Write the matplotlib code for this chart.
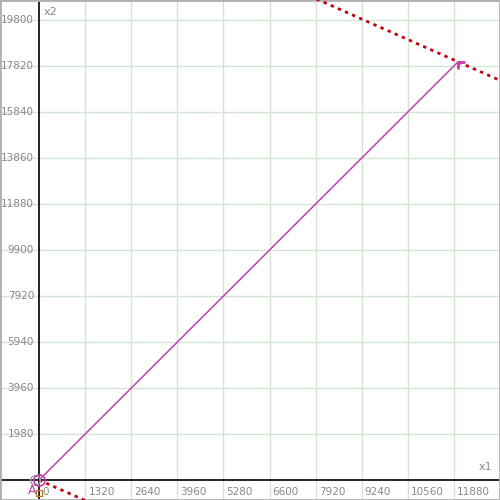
import matplotlib
matplotlib.use("Agg")
from matplotlib import pyplot as plt
from matplotlib.path import Path
import matplotlib.transforms as mtransforms

# axis ticks
x_ticks = [1320, 2640, 3960, 5280, 6600, 7920, 9240, 10560, 11880]
y_ticks = [1980, 3960, 5940, 7920, 9900, 11880, 13860, 15840, 17820, 19800]
x_tick_labels = ["0", "1320", "2640", "3960", "5280", "6600", "7920", "9240", "10560", "11880"]
y_tick_labels = ["1980", "3960", "5940", "7920", "9900", "11880", "13860", "15840", "17820", "19800"]

# direction vector from origin to the optimum point
origin = (0, 0)
optimum = (12000, 18000)
level_slope = -2 / 3  # objective level lines (perpendicular to gradient (2,3))

xlim = (-1120, 13200)
ylim = (-860, 20660)

gray = "#888888"
grid_col = "#d3e6d3"

fig = plt.figure(figsize=(5, 5), dpi=100)
ax = fig.add_axes([0, 0, 1, 1])
ax.set_xlim(*xlim)
ax.set_ylim(*ylim)

for x in x_ticks:
    ax.axvline(x, color=grid_col, lw=1, zorder=1)
for y in y_ticks:
    ax.axhline(y, color=grid_col, lw=1, zorder=1)

ax.axhline(0, color="black", lw=1.2, zorder=2)
ax.axvline(0, color="black", lw=1.2, zorder=2)

# tick labels
xt = mtransforms.blended_transform_factory(ax.transData, ax.transAxes)
for x, lab in zip([0] + x_ticks, x_tick_labels):
    ax.text(x + 90, 0.016, lab, transform=xt, ha="left", va="center",
            fontsize=7.5, color=gray, zorder=3)
yt = mtransforms.blended_transform_factory(ax.transAxes, ax.transData)
for y, lab in zip(y_ticks, y_tick_labels):
    ax.text(0.068, y, lab, transform=yt, ha="right", va="center",
            fontsize=7.5, color=gray, zorder=3)

ax.text(0.985, 0.066, "x1", transform=ax.transAxes, ha="right", va="center",
        fontsize=8, color=gray)
ax.text(0.088, 0.976, "x2", transform=ax.transAxes, ha="left", va="center",
        fontsize=8, color=gray)

# objective level lines
for px, py in [origin, optimum]:
    xs = [0, xlim[1]]
    ys = [py + level_slope * (v - px) for v in xs]
    ax.plot(xs, ys, color="#c00010", lw=2, ls=(0, (1.2, 1.6)), zorder=4)

# direction line
ax.plot([origin[0], optimum[0]], [origin[1], optimum[1]],
        color="#c040b0", lw=1.1, zorder=5)

corner = Path([(0, 0), (1, 0), (0, 0), (0, -1)],
              [Path.MOVETO, Path.LINETO, Path.MOVETO, Path.LINETO])
ax.plot([optimum[0]], [optimum[1]], marker=corner, ms=10, mew=2,
        color="#c040b0", ls="none", zorder=6)

ax.plot([origin[0] - 120], [origin[1]], marker="o", ms=7, mfc="none",
        mec="#a0a0a0", ls="none", zorder=6)
ax.plot([origin[0]], [origin[1]], marker="o", ms=8, mfc="none",
        mec="#c040b0", mew=1.2, ls="none", zorder=6)
ax.text(origin[0] - 200, 0.018, "A", transform=xt, ha="center", va="center",
        fontsize=9, color="#c040b0", zorder=6)
ax.plot([origin[0] - 10], [-560], marker="s", ms=4, mfc="none",
        mec="#c08030", ls="none", zorder=6)

ax.set_xticks([])
ax.set_yticks([])
for s in ax.spines.values():
    s.set_color("#b0b0b0")
    s.set_linewidth(2)

fig.savefig("out.png", dpi=100)
